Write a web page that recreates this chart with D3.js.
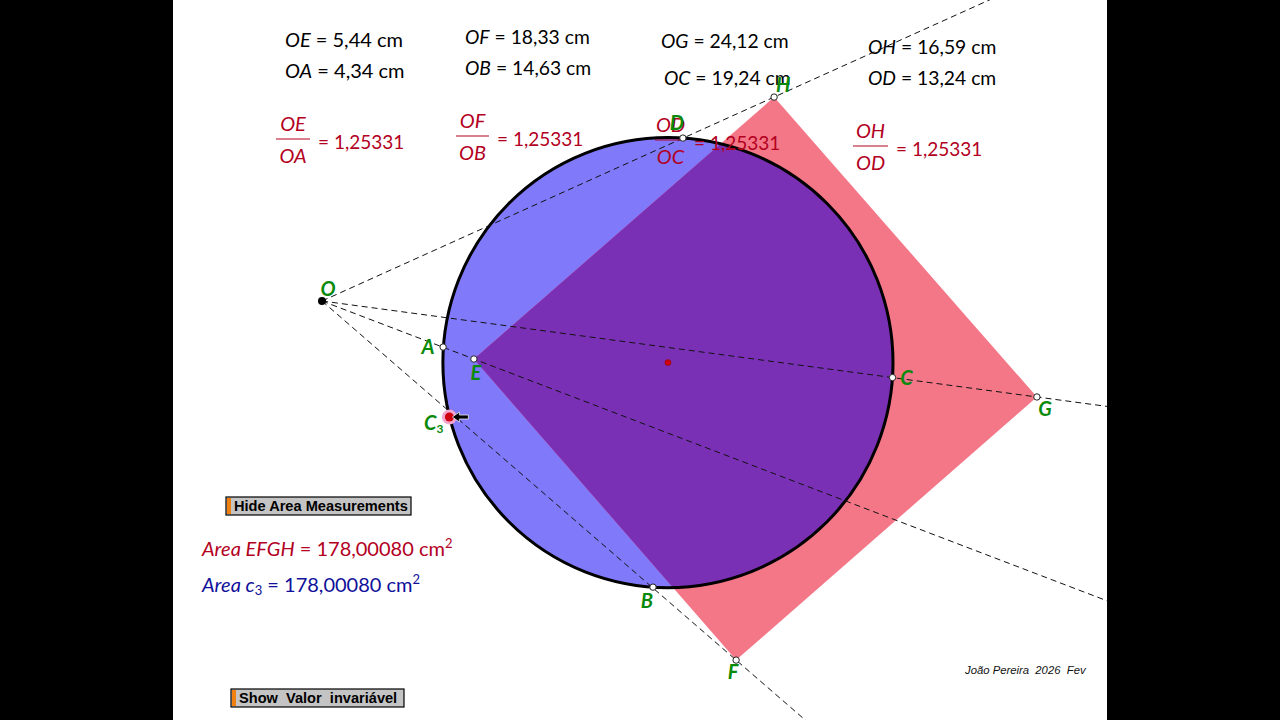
<!DOCTYPE html>
<html>
<head>
<meta charset="utf-8">
<script src="https://cdn.jsdelivr.net/npm/d3@7"></script>
<style>
  html, body { margin: 0; padding: 0; background: #000; overflow: hidden; }
  svg { display: block; }
  text { font-family: "Lato", "Noto Sans", sans-serif; }
</style>
</head>
<body>
<div id="chart"></div>
<script>
// values, in cm, with O as origin
const pointNames = ['O', 'A', 'E', 'B', 'F', 'C', 'G', 'D', 'H', 'C3'];
const pointX = [0, 4.05, 5.08, 11.07, 13.85, 19.08, 23.91, 12.07, 15.12, 4.26];
const pointY = [0, -1.54, -1.94, -9.57, -12.01, -2.56, -3.21, 5.45, 6.82, -3.88];
const circleCenter = [11.57, -2.06];
const circleRadius = 7.527;

const lengthNames = ['OE', 'OA', 'OF', 'OB', 'OG', 'OC', 'OH', 'OD'];
const lengthValues = ['5,44', '4,34', '18,33', '14,63', '24,12', '19,24', '16,59', '13,24'];
const ratioTop = ['OE', 'OF', 'OD', 'OH'];
const ratioBottom = ['OA', 'OB', 'OC', 'OD'];
const ratioValue = '1,25331';
const areaValue = '178,00080';

const W = 1280, H = 720;
const pageLeft = 173, pageRight = 1107;
const colors = { circle: '#8079fa', square: '#f47787', overlap: '#7a30b5', red: '#b3001e', blue: '#10109a', green: '#0a8a0a' };

// 29.9 px to the cm, O sits at (322, 301)
const x = d3.scaleLinear().domain([0, 10]).range([322, 621]);
const y = d3.scaleLinear().domain([0, 10]).range([301, 2]);

const pts = {};
pointNames.forEach((n, i) => { pts[n] = { name: n, x: pointX[i], y: pointY[i] }; });

const svg = d3.select('#chart').append('svg').attr('width', W).attr('height', H);
const defs = svg.append('defs');
defs.append('clipPath').attr('id', 'page').append('rect')
  .attr('x', pageLeft).attr('y', 0).attr('width', pageRight - pageLeft).attr('height', H);

svg.append('rect').attr('x', pageLeft).attr('y', 0)
  .attr('width', pageRight - pageLeft).attr('height', H).attr('fill', '#fff');

const g = svg.append('g').attr('clip-path', 'url(#page)');

// shapes
const squarePts = ['E', 'F', 'G', 'H'].map(n => pts[n]);
const squareLine = d3.line().x(d => x(d.x)).y(d => y(d.y)).curve(d3.curveLinearClosed);
const cx = x(circleCenter[0]), cy = y(circleCenter[1]);
const r = x(circleRadius) - x(0);

defs.append('clipPath').attr('id', 'inCircle').append('circle')
  .attr('cx', cx).attr('cy', cy).attr('r', r);

g.append('circle').attr('cx', cx).attr('cy', cy).attr('r', r).attr('fill', colors.circle);
g.append('path').attr('d', squareLine(squarePts)).attr('fill', colors.square);
g.append('path').attr('d', squareLine(squarePts)).attr('fill', colors.overlap)
  .attr('clip-path', 'url(#inCircle)');
g.append('circle').attr('cx', cx).attr('cy', cy).attr('r', r)
  .attr('fill', 'none').attr('stroke', '#000').attr('stroke-width', 3);

// rays from O, cut off by the page clip
g.append('g').selectAll('line').data(['E', 'F', 'G', 'H'].map(n => pts[n])).join('line')
  .attr('x1', x(0)).attr('y1', y(0))
  .attr('x2', d => x(d.x * 8)).attr('y2', d => y(d.y * 8))
  .attr('stroke', '#111').attr('stroke-width', 1).attr('stroke-dasharray', '6,4');

// text helpers
function lengthText(name, value, px, py) {
  // the longer values run a bit wide in this font
  const size = value.length > 4 ? 19.3 : 20;
  const t = svg.append('text').attr('x', px).attr('y', py).attr('font-size', size).attr('fill', '#000');
  t.append('tspan').attr('font-style', 'italic').text(name);
  t.append('tspan').text(` = ${value} cm`);
}
function ratioText(top, bottom, px, barY, barW) {
  const mid = px + barW / 2;
  svg.append('text').attr('x', mid).attr('y', barY - 8).attr('text-anchor', 'middle')
    .attr('font-size', 20).attr('font-style', 'italic').attr('fill', colors.red).text(top);
  svg.append('line').attr('x1', px).attr('x2', px + barW).attr('y1', barY).attr('y2', barY)
    .attr('stroke', colors.red).attr('stroke-width', 1);
  svg.append('text').attr('x', mid).attr('y', barY + 24).attr('text-anchor', 'middle')
    .attr('font-size', 20).attr('font-style', 'italic').attr('fill', colors.red).text(bottom);
  svg.append('text').attr('x', px + barW + 8).attr('y', barY + 10)
    .attr('font-size', 19).attr('fill', colors.red).text(`= ${ratioValue}`);
}

// measurements, same order as lengthNames
const lengthPos = [[285, 47], [285, 78], [465, 44], [465, 75], [661, 48], [664, 85], [868, 54], [868, 85]];
lengthNames.forEach((n, i) => lengthText(n, lengthValues[i], lengthPos[i][0], lengthPos[i][1]));

const ratioPos = [[276, 139, 34], [456, 136, 33], [655, 140, 31], [853, 146, 35]];
ratioTop.forEach((n, i) => ratioText(n, ratioBottom[i], ratioPos[i][0], ratioPos[i][1], ratioPos[i][2]));

// points
const dots = ['A', 'E', 'B', 'F', 'C', 'G', 'D', 'H'].map(n => pts[n]);
svg.append('g').selectAll('circle').data(dots).join('circle')
  .attr('cx', d => x(d.x)).attr('cy', d => y(d.y)).attr('r', 3.2)
  .attr('fill', '#fff').attr('stroke', '#222').attr('stroke-width', 1);
svg.append('circle').attr('cx', x(0)).attr('cy', y(0)).attr('r', 4).attr('fill', '#000');
svg.append('circle').attr('cx', cx).attr('cy', cy).attr('r', 3)
  .attr('fill', '#d00010').attr('stroke', '#800').attr('stroke-width', 0.5);

// dragged point c3 with the mouse arrow
const c3 = pts.C3;
svg.append('circle').attr('cx', x(c3.x)).attr('cy', y(c3.y)).attr('r', 7.5).attr('fill', '#f2a6d0');
svg.append('circle').attr('cx', x(c3.x)).attr('cy', y(c3.y)).attr('r', 4.5).attr('fill', '#d00010');
svg.append('path')
  .attr('transform', `translate(${x(c3.x) + 3},${y(c3.y)})`)
  .attr('d', 'M0,0 L7,-5 L7,-2 L16,-2 L16,2 L7,2 L7,5 Z')
  .attr('fill', '#000').attr('stroke', '#eee').attr('stroke-width', 0.8);

// point labels
const labelOffset = {
  O: [6, -5], A: [-15, 7], E: [2, 21], B: [-6, 21], F: [-3, 19],
  C: [14, 7], G: [8, 19], D: [-6, -8], H: [9, -5]
};
svg.append('g').selectAll('text').data(pointNames.filter(n => n !== 'C3')).join('text')
  .attr('x', n => x(pts[n].x) + labelOffset[n][0])
  .attr('y', n => y(pts[n].y) + labelOffset[n][1])
  .attr('text-anchor', 'middle').attr('font-size', 20).attr('font-style', 'italic')
  .attr('font-weight', 700).attr('fill', colors.green).text(n => n);
const c3Label = svg.append('text').attr('x', 424).attr('y', 430)
  .attr('font-size', 20).attr('font-style', 'italic').attr('font-weight', 700).attr('fill', colors.green);
c3Label.append('tspan').text('C');
c3Label.append('tspan').attr('font-size', 12).attr('dy', 3).attr('font-style', 'normal').text('3');

// area readouts
function areaText(label, labelItalic, sub, color, py) {
  const t = svg.append('text').attr('x', 202).attr('y', py).attr('font-size', 20).attr('fill', color);
  t.append('tspan').attr('font-style', 'italic').text(label + ' ');
  t.append('tspan').attr('font-style', 'italic').text(labelItalic);
  if (sub) t.append('tspan').attr('font-size', 13).attr('dy', 3).text(sub);
  t.append('tspan').attr('dy', sub ? -3 : 0).text(` = ${areaValue} cm`);
  t.append('tspan').attr('font-size', 13).attr('dy', -8).text('2');
}
areaText('Area', 'EFGH', null, colors.red, 556);
areaText('Area', 'c', '3', colors.blue, 592);

// buttons
function button(label, px, py, w, h) {
  svg.append('rect').attr('x', px).attr('y', py).attr('width', w).attr('height', h)
    .attr('fill', '#c4c4c4').attr('stroke', '#000').attr('stroke-width', 1.2);
  svg.append('rect').attr('x', px + 1).attr('y', py + 1).attr('width', 4).attr('height', h - 2)
    .attr('fill', '#f08010');
  svg.append('text').attr('x', px + 8).attr('y', py + 14)
    .style('font-family', '"Liberation Sans", Arial, sans-serif').style('white-space', 'pre')
    .attr('font-size', 14.6).attr('font-weight', 700).attr('fill', '#000').text(label);
}
button('Hide Area Measurements', 226, 497, 185, 18);
button('Show  Valor  invariável', 231, 689, 173, 18);

svg.append('text').attr('x', 965).attr('y', 674).style('white-space', 'pre')
  .style('font-family', '"Liberation Sans", Arial, sans-serif')
  .attr('font-size', 11.3).attr('font-style', 'italic').attr('fill', '#111')
  .text('João Pereira  2026  Fev');
</script>
</body>
</html>
